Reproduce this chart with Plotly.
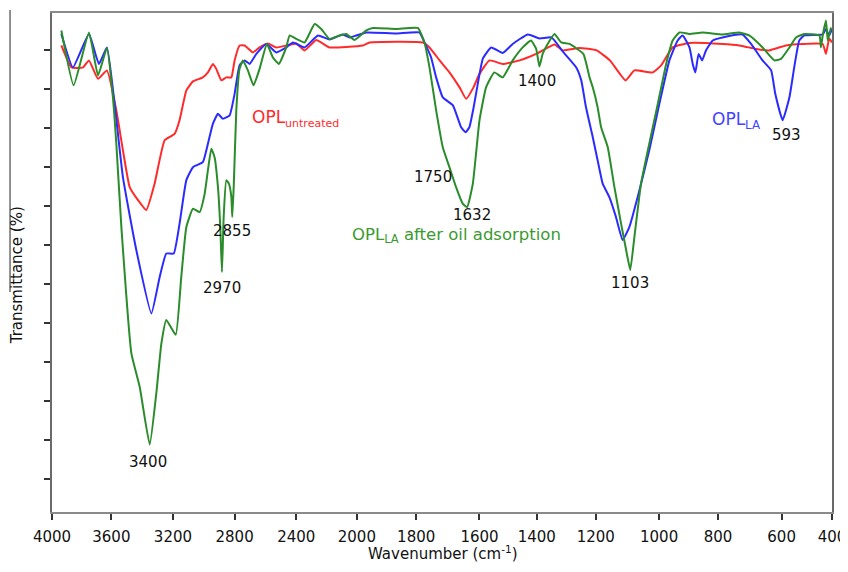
import numpy as np
import plotly.graph_objects as go

# ---------------- data (wavenumber cm-1, transmittance %) ----------------
green_wn = [3937, 3854, 3751, 3690, 3630, 3590, 3568, 3535, 3470, 3416, 3351, 3308, 3275, 3243,
            3182, 3146, 3113, 3070, 3027, 2994, 2973, 2951, 2930, 2908, 2893, 2882, 2871, 2854,
            2837, 2821, 2815, 2805, 2789, 2768, 2746, 2714, 2677, 2638, 2591, 2552, 2513, 2465,
            2443, 2400, 2345, 2279, 2235, 2180, 2114, 2070, 2015, 1968, 1946, 1867, 1795, 1774,
            1758, 1737, 1716, 1695, 1674, 1653, 1639, 1621, 1600, 1577, 1548, 1519, 1484, 1449,
            1420, 1402, 1391, 1380, 1363, 1340, 1317, 1289, 1242, 1221, 1210, 1194, 1183, 1162,
            1141, 1120, 1104, 1091, 1078, 1057, 1031, 1004, 976, 954, 931, 897, 852, 786, 733,
            702, 660, 623, 602, 569, 543, 510, 450, 444, 437, 424, 417, 404]
green_t = [96.5, 85.5, 96.1, 87.5, 93.0, 83.1, 73.9, 57.1, 31.8, 25.1, 13.5, 23.8, 33.8, 38.5,
           35.5, 47.1, 57.1, 60.8, 60.1, 63.8, 68.5, 72.8, 71.1, 65.1, 57.1, 48.1, 59.1, 66.5,
           65.8, 63.1, 59.1, 65.8, 80.5, 88.8, 90.5, 88.5, 85.5, 88.8, 93.8, 91.1, 89.8, 93.1,
           95.5, 94.8, 94.1, 97.8, 96.8, 94.8, 95.5, 95.8, 94.6, 96.5, 97.0, 96.8, 97.0, 94.1,
           89.1, 80.5, 73.1, 69.1, 65.1, 61.8, 61.1, 65.8, 78.5, 85.1, 88.1, 87.1, 90.5, 93.1,
           94.5, 92.8, 89.3, 91.8, 93.8, 95.8, 94.1, 93.8, 91.8, 87.1, 85.1, 81.1, 77.1, 73.1,
           65.1, 57.8, 52.5, 48.5, 55.1, 65.8, 73.8, 81.8, 89.8, 94.5, 96.1, 95.8, 96.1, 95.7, 96.1,
           95.5, 93.1, 90.5, 90.8, 93.1, 95.1, 95.8, 95.5, 93.1, 95.5, 98.5, 94.5, 97.1]

blue_wn = [3937, 3859, 3751, 3684, 3630, 3579, 3525, 3438, 3340, 3286, 3243, 3195, 3157, 3113,
           3070, 3006, 2973, 2941, 2908, 2876, 2832, 2800, 2768, 2735, 2703, 2659, 2594, 2530,
           2465, 2422, 2345, 2257, 2180, 2092, 2048, 2004, 1968, 1867, 1790, 1774, 1753, 1737,
           1716, 1684, 1658, 1644, 1632, 1619, 1609, 1588, 1559, 1519, 1484, 1431, 1391, 1350,
           1312, 1266, 1249, 1233, 1210, 1194, 1178, 1157, 1136, 1115, 1094, 1062, 1031, 999,
           965, 937, 920, 897, 886, 877, 866, 854, 841, 818, 786, 723, 696, 660, 633, 620, 596,
           569, 550, 530, 510, 437, 424, 411, 400]
blue_t = [95.8, 89.1, 95.8, 89.8, 93.1, 81.8, 67.1, 52.5, 39.8, 47.1, 51.8, 51.8, 57.8, 66.5,
          69.1, 70.1, 73.8, 77.8, 79.8, 78.8, 79.5, 83.8, 89.5, 90.5, 89.8, 91.8, 93.8, 92.1,
          93.1, 94.1, 93.1, 95.5, 94.7, 95.7, 95.1, 95.5, 96.1, 95.9, 96.1, 94.1, 91.1, 87.1,
          83.1, 81.5, 77.1, 76.1, 77.1, 80.9, 84.5, 90.9, 93.1, 92.0, 93.8, 95.7, 94.9, 95.1,
          92.3, 89.1, 86.5, 81.1, 75.1, 70.5, 65.8, 63.1, 59.1, 54.5, 57.1, 64.5, 72.5, 81.8,
          90.5, 94.5, 95.5, 93.1, 89.8, 88.1, 91.8, 90.5, 92.5, 94.5, 95.1, 95.7, 93.8, 90.5,
          88.5, 83.8, 78.5, 83.1, 89.1, 94.5, 95.5, 95.7, 96.8, 95.5, 96.8]

red_wn = [3937, 3869, 3791, 3751, 3690, 3630, 3568, 3525, 3481, 3427, 3373, 3319, 3254, 3189,
          3157, 3113, 3070, 3006, 2973, 2941, 2919, 2886, 2854, 2821, 2800, 2768, 2735, 2681,
          2638, 2584, 2530, 2465, 2400, 2345, 2268, 2180, 1980, 1957, 1779, 1758, 1726, 1695,
          1663, 1642, 1619, 1600, 1565, 1519, 1460, 1402, 1340, 1312, 1255, 1197, 1155, 1106,
          1078, 1020, 993, 954, 897, 786, 733, 680, 639, 583, 517, 437, 424, 411, 400]
red_t = [93.5, 89.1, 89.1, 90.5, 86.8, 88.5, 80.5, 72.5, 65.1, 62.5, 60.5, 65.8, 74.5, 75.8,
         78.5, 84.5, 86.3, 87.1, 88.1, 89.8, 88.8, 86.5, 87.1, 87.1, 90.5, 93.5, 93.5, 92.1,
         93.1, 93.9, 93.1, 93.5, 93.9, 92.5, 94.6, 93.1, 93.5, 94.1, 94.1, 93.1, 90.5, 88.1,
         85.1, 82.8, 85.1, 87.8, 90.5, 89.8, 90.5, 91.8, 93.7, 92.5, 93.0, 92.5, 90.5, 86.5,
         88.5, 88.1, 89.5, 93.1, 94.0, 93.8, 93.5, 92.8, 92.5, 93.5, 93.8, 93.8, 91.8, 94.9, 94.1]

# peak labels: (text, wavenumber, transmittance)
peak_labels = ["3400", "2970", "2855", "1750", "1632", "1400", "1103", "593"]
peak_wn = [3365, 2885, 2815, 1747, 1625, 1398, 1092, 582]
peak_t = [10.0, 44.8, 56.4, 67.2, 59.6, 86.4, 45.8, 75.6]

x_tick_wn = [4000, 3600, 3200, 2800, 2400, 2000, 1800, 1600, 1400, 1200, 1000, 800, 600, 400]
x_tick_text = [str(v) for v in x_tick_wn]

# ---------------- axis scale (FTIR split scale) ----------------
x_tick_pos = [0, 59.4, 121, 182.7, 244.4, 305, 364.4, 427.7, 485, 544, 607.4, 666.4, 730, 780.4]


def xpos(wn):
    wn = np.asarray(wn, dtype=float)
    return np.interp(-wn, -np.array(x_tick_wn, float), np.array(x_tick_pos, float))


RED = "#ff2b2b"
BLUE = "#2b2bff"
GREEN = "#2a8c2a"

fig = go.Figure()
for wn, t, col, name in [(red_wn, red_t, RED, "OPL untreated"),
                         (blue_wn, blue_t, BLUE, "OPL LA"),
                         (green_wn, green_t, GREEN, "OPL LA after oil adsorption")]:
    fig.add_trace(go.Scatter(x=xpos(wn), y=t, mode="lines", name=name,
                             line=dict(color=col, width=2, shape="spline", smoothing=0.4),
                             showlegend=False))

FONT = "DejaVu Sans, Liberation Sans, Arial, sans-serif"
for txt, w, t in zip(peak_labels, peak_wn, peak_t):
    fig.add_annotation(x=float(xpos([w])[0]), y=t, text=txt, showarrow=False,
                       font=dict(family=FONT, size=15, color="#111111"))

fig.add_annotation(x=float(xpos([2703])[0]), y=78.9,
                   text="OPL<sub><span style='font-size:11px'>untreated</span></sub>",
                   showarrow=False, xanchor="left",
                   font=dict(family=FONT, size=17, color=RED))
fig.add_annotation(x=float(xpos([2048])[0]), y=55.4, text="OPL<sub>LA</sub> after oil adsorption",
                   showarrow=False, xanchor="left",
                   font=dict(family=FONT, size=16.5, color="#3a9a30"))
fig.add_annotation(x=float(xpos([826])[0]), y=78.5, text="OPL<sub>LA</sub>",
                   showarrow=False, xanchor="left",
                   font=dict(family=FONT, size=17, color="#4444ff"))

# axis titles
fig.add_annotation(xref="paper", yref="paper", x=0.501, y=-0.082,
                   xanchor="center", yanchor="middle",
                   text="Wavenumber (cm<sup>-1</sup>)", showarrow=False,
                   font=dict(family=FONT, size=15, color="#111111"))
fig.add_annotation(xref="paper", yref="paper", x=-0.0445, y=0.475, textangle=-90,
                   xanchor="center", yanchor="middle",
                   text="Transmittance (%)", showarrow=False,
                   font=dict(family=FONT, size=15, color="#111111"))

# thin border line at far left of the original figure
fig.add_shape(type="line", xref="paper", yref="paper", x0=-0.0538, x1=-0.0538,
              y0=1.006, y1=0.441, line=dict(color="#555555", width=1.3))

# page body has an 8px margin: size and offset the plot area accordingly
fig.update_layout(
    width=840, height=556,
    margin=dict(l=44, r=16, t=5, b=52),
    paper_bgcolor="white", plot_bgcolor="white",
    font=dict(family=FONT, color="#111111"),
    xaxis=dict(range=[x_tick_pos[0], x_tick_pos[-1]], tickmode="array",
               tickvals=x_tick_pos, ticktext=x_tick_text, automargin=False,
               ticklabeloverflow="allow", ticklabelstandoff=4,
               showgrid=False, zeroline=False,
               showline=True, linecolor="#8a8a8a", linewidth=2, mirror=True,
               ticks="outside", ticklen=6, tickwidth=1.5, tickcolor="#333333",
               tickfont=dict(family=FONT, size=15, color="#111111")),
    yaxis=dict(range=[0, 100], tickmode="linear", tick0=6.6, dtick=7.82,
               showticklabels=False, showgrid=False, zeroline=False, automargin=False,
               showline=True, linecolor="#6a6a6a", linewidth=2, mirror=True,
               ticks="outside", ticklen=6, tickwidth=1.5, tickcolor="#333333"),
)

fig.write_html("out.html")
